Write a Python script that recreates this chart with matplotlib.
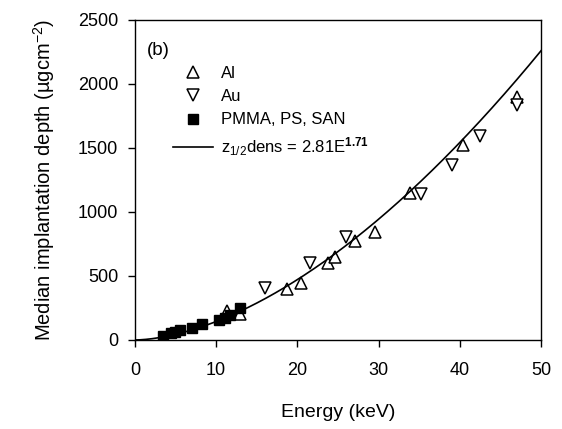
import numpy as np
import matplotlib
matplotlib.use("Agg")
import matplotlib.pyplot as plt

plt.rcParams['font.family'] = ['Liberation Sans', 'DejaVu Sans']
plt.rcParams['mathtext.fontset'] = 'custom'
plt.rcParams['mathtext.rm'] = 'Liberation Sans'
plt.rcParams['mathtext.it'] = 'Liberation Sans'
plt.rcParams['mathtext.bf'] = 'Liberation Sans:bold'

# Aluminium data (energy keV, depth ug/cm^2)
al_energy = [11.4, 13.0, 18.7, 20.5, 23.8, 24.6, 27.1, 29.6, 33.9, 40.4, 47.1]
al_depth = [225, 205, 396, 443, 599, 646, 776, 846, 1151, 1523, 1900]

# Gold data
au_energy = [16.0, 21.6, 26.0, 35.2, 39.0, 42.5, 47.1]
au_depth = [404, 604, 802, 1141, 1367, 1594, 1836]

# Polymer data
poly_energy = [3.5, 4.4, 4.9, 5.5, 7.0, 8.3, 10.3, 11.1, 11.7, 12.9]
poly_depth = [34, 52, 65, 78, 96, 122, 156, 169, 195, 250]

# Fit parameters
fit_coef = 2.81
fit_exp = 1.71

fig = plt.figure(figsize=(5.62, 4.29), dpi=100)
ax = fig.add_axes([0.240, 0.2075, 0.7226, 0.7459])

e = np.linspace(0, 50, 400)
ax.plot(al_energy, al_depth, linestyle='none', marker='^', ms=8.5,
        mfc='white', mec='black', mew=1.1, label='Al')
ax.plot(au_energy, au_depth, linestyle='none', marker='v', ms=8.5,
        mfc='white', mec='black', mew=1.1, label='Au')
ax.plot(poly_energy, poly_depth, linestyle='none', marker='s', ms=6.5,
        mfc='black', mec='black', label='PMMA, PS, SAN')
ax.plot(e, fit_coef * e ** fit_exp, color='black', lw=1.2,
        label=r'z$_{1/2}$dens = 2.81E$^{\mathbf{1.71}}$')

ax.set_xlim(0, 50)
ax.set_ylim(0, 2500)
ax.set_xticks([0, 10, 20, 30, 40, 50])
ax.set_yticks([0, 500, 1000, 1500, 2000, 2500])
ax.tick_params(direction='out', length=5, width=1, labelsize=13,
               top=False, right=False)
ax.tick_params(axis='x', pad=11)
ax.tick_params(axis='y', pad=7)
for s in ax.spines.values():
    s.set_linewidth(1.0)

ax.set_xlabel('Energy (keV)', fontsize=14, labelpad=18)
ax.set_ylabel('Median implantation depth (µgcm$^{-2}$)', fontsize=14.5, labelpad=15)

ax.text(0.03, 0.906, '(b)', transform=ax.transAxes, fontsize=13.5, va='center')

leg = ax.legend(loc='upper left', bbox_to_anchor=(0.095, 0.857), frameon=False,
                fontsize=12, handlelength=2.4, handletextpad=0.45,
                labelspacing=0.5, borderpad=0, borderaxespad=0)

fig.savefig('out.png', dpi=100)
